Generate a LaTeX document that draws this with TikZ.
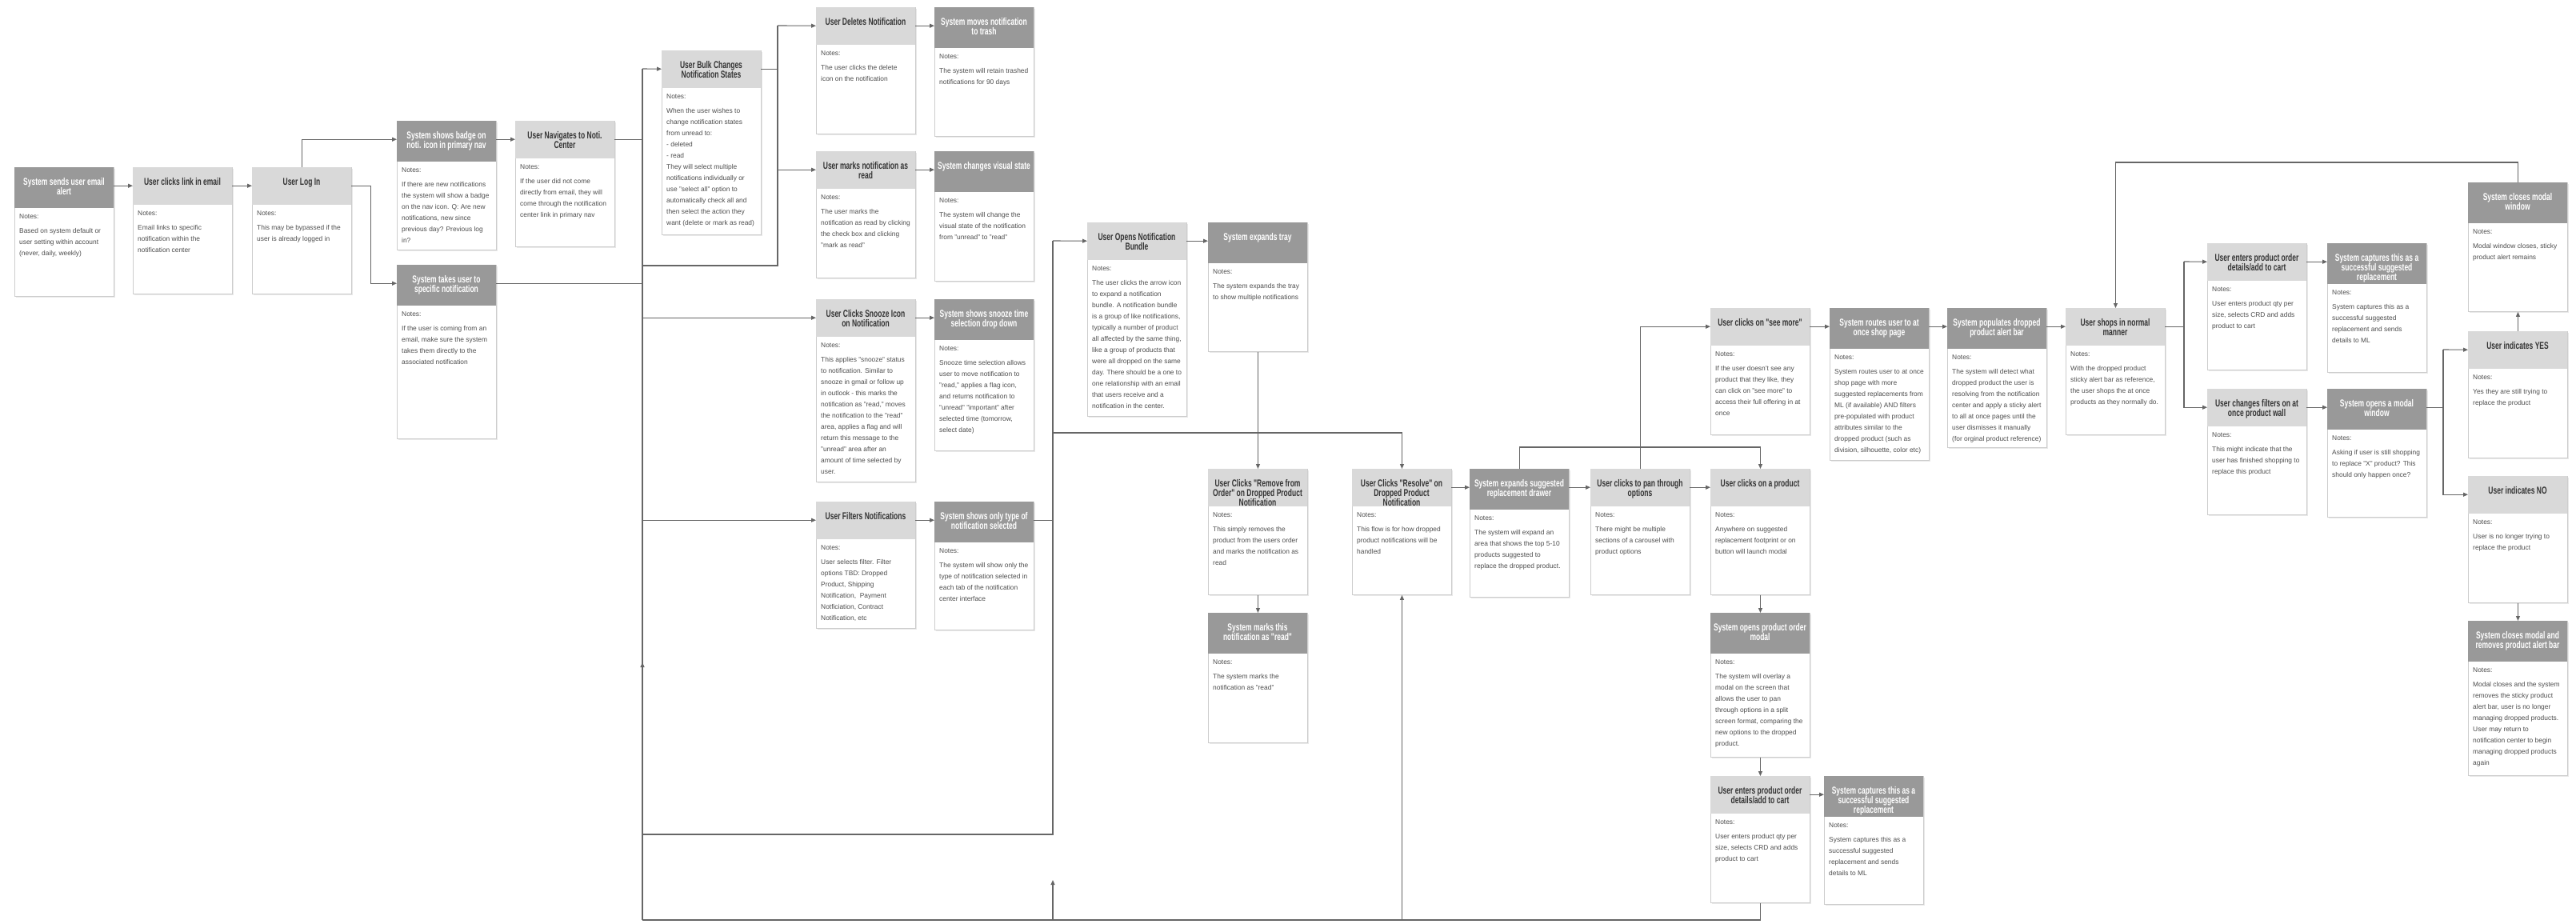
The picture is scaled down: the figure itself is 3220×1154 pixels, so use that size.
\documentclass[tikz,border=0pt]{standalone}
\usepackage{fontspec}
\setmainfont{Liberation Sans}
\newfontfamily\headfont[FakeStretch=0.68]{Liberation Sans}
\usetikzlibrary{arrows.meta}

\definecolor{hdrdark}{HTML}{999999}
\definecolor{hdrlight}{HTML}{D9D9D9}
\definecolor{boxline}{HTML}{CDCDCD}
\definecolor{wirecol}{HTML}{666666}
\definecolor{notegray}{HTML}{4D4D4D}
\definecolor{titledark}{HTML}{333333}

\tikzset{
  wire/.style={draw=wirecol, line width=1.1pt},
  flow/.style={wire, -{Triangle[length=6pt,width=5pt]}},
  boxshade/.style={fill=black!9},
  boxbody/.style={draw=boxline, line width=0.9pt, fill=white, inner sep=0pt,
                  minimum width=124pt, anchor=north west},
  anchorbox/.style={inner sep=0pt, minimum width=124pt, minimum height=46pt,
                    anchor=north west},
  darkfill/.style={fill=hdrdark},
  lightfill/.style={fill=hdrlight},
  darktitle/.style={text=white, font=\headfont\bfseries\fontsize{12.5}{12}\selectfont,
                    align=center, inner sep=0pt, anchor=north},
  lighttitle/.style={text=titledark, font=\headfont\bfseries\fontsize{12.5}{12}\selectfont,
                     align=center, inner sep=0pt, anchor=north},
  notetext/.style={text=notegray, font=\fontsize{8.4}{14}\selectfont,
                   align=left, inner sep=0pt, anchor=north west},
}

% header heights of the two box kinds
\def\hhdark{51}
\def\hhlight{47}

% #1 name, #2 dark/light, #3 left, #4 top, #5 bottom, #6 title, #7 notes
\newcommand\procbox[7]{%
  \pgfmathsetmacro\pbh{#5-#4}%
  \pgfmathsetmacro\pbhead{\csname hh#2\endcsname}%
  \fill[boxshade] (#3+1.5,#4+1.5) rectangle ++(124,\pbh);
  \node[boxbody, minimum height=\pbh pt] (#1) at (#3,#4) {};
  \fill[#2fill] (#3,#4) rectangle ++(124,\pbhead);
  \node[anchorbox] (#1-h) at (#3,#4) {};
  \node[#2title] at (#3+62,#4+13.5) {#6};
  \node[notetext] at (#3+6,#4+\pbhead+8) {Notes:\\[3.5pt]#7};
}

\begin{document}
\begin{tikzpicture}[x=1pt, y=-1pt]
\useasboundingbox[fill=white] (0,0) rectangle (3220,1154);

% ---------- entry path ----------
\procbox{email}{dark}{18}{209}{370}{System sends user email\\alert}
  {Based on system default or\\user setting within account\\(never, daily, weekly)}
\procbox{click}{light}{166}{209}{367}{User clicks link in email}
  {Email links to specific\\notification within the\\notification center}
\procbox{login}{light}{315}{209}{367}{User Log In}
  {This may be bypassed if the\\user is already logged in}
\procbox{badge}{dark}{496}{151}{312}{System shows badge on\\noti. icon in primary nav}
  {If there are new notifications\\the system will show a badge\\on the nav icon. Q: Are new\\notifications, new since\\previous day? Previous log\\in?}
\procbox{navigate}{light}{644}{151}{308}{User Navigates to Noti.\\Center}
  {If the user did not come\\directly from email, they will\\come through the notification\\center link in primary nav}
\procbox{specific}{dark}{496}{331}{548}{System takes user to\\specific notification}
  {If the user is coming from an\\email, make sure the system\\takes them directly to the\\associated notification}

% ---------- notification center actions ----------
\procbox{bulk}{light}{827}{63}{293}{User Bulk Changes\\Notification States}
  {When the user wishes to\\change notification states\\from unread to:\\- deleted\\- read\\They will select multiple\\notifications individually or\\use "select all" option to\\automatically check all and\\then select the action they\\want (delete or mark as read)}
\procbox{delete}{light}{1020}{9}{167}{User Deletes Notification}
  {The user clicks the delete\\icon on the notification}
\procbox{trash}{dark}{1168}{9}{170}{System moves notification\\to trash}
  {The system will retain trashed\\notifications for 90 days}
\procbox{markread}{light}{1020}{189}{347}{User marks notification as\\read}
  {The user marks the\\notification as read by clicking\\the check box and clicking\\"mark as read"}
\procbox{visual}{dark}{1168}{189}{351}{System changes visual state}
  {The system will change the\\visual state of the notification\\from "unread" to "read"}
\procbox{snooze}{light}{1020}{374}{602}{User Clicks Snooze Icon\\on Notification}
  {This applies "snooze" status\\to notification. Similar to\\snooze in gmail or follow up\\in outlook - this marks the\\notification as "read," moves\\the notification to the "read"\\area, applies a flag and will\\return this message to the\\"unread" area after an\\amount of time selected by\\user.}
\procbox{snoozedd}{dark}{1168}{374}{563}{System shows snooze time\\selection drop down}
  {Snooze time selection allows\\user to move notification to\\"read," applies a flag icon,\\and returns notification to\\"unread" "important" after\\selected time (tomorrow,\\select date)}
\procbox{filter}{light}{1020}{627}{785}{User Filters Notifications}
  {User selects filter. Filter\\options TBD: Dropped\\Product, Shipping\\Notification,~ Payment\\Notficiation, Contract\\Notification, etc}
\procbox{onlytype}{dark}{1168}{627}{787}{System shows only type of\\notification selected}
  {The system will show only the\\type of notification selected in\\each tab of the notification\\center interface}

% ---------- bundles and dropped products ----------
\procbox{bundle}{light}{1359}{278}{520}{User Opens Notification\\Bundle}
  {The user clicks the arrow icon\\to expand a notification\\bundle. A notification bundle\\is a group of like notifications,\\typically a number of product\\all affected by the same thing,\\like a group of products that\\were all dropped on the same\\day. There should be a one to\\one relationship with an email\\that users receive and a\\notification in the center.}
\procbox{tray}{dark}{1510}{278}{439}{System expands tray}
  {The system expands the tray\\to show multiple notifications}
\procbox{remove}{light}{1510}{586}{743}{User Clicks "Remove from\\Order" on Dropped Product\\Notification}
  {This simply removes the\\product from the users order\\and marks the notification as\\read}
\procbox{sysread}{dark}{1510}{766}{928}{System marks this\\notification as "read"}
  {The system marks the\\notification as "read"}
\procbox{resolve}{light}{1690}{586}{743}{User Clicks "Resolve" on\\Dropped Product\\Notification}
  {This flow is for how dropped\\product notifications will be\\handled}
\procbox{drawer}{dark}{1837}{586}{746}{System expands suggested\\replacement drawer}
  {The system will expand an\\area that shows the top 5-10\\products suggested to\\replace the dropped product.}
\procbox{pan}{light}{1988}{586}{743}{User clicks to pan through\\options}
  {There might be multiple\\sections of a carousel with\\product options}
\procbox{product}{light}{2138}{586}{743}{User clicks on a product}
  {Anywhere on suggested\\replacement footprint or on\\button will launch modal}
\procbox{seemore}{light}{2138}{385}{543}{User clicks on "see more"}
  {If the user doesn't see any\\product that they like, they\\can click on "see more" to\\access their full offering in at\\once}
\procbox{modal}{dark}{2138}{766}{946}{System opens product order\\modal}
  {The system will overlay a\\modal on the screen that\\allows the user to pan\\through options in a split\\screen format, comparing the\\new options to the dropped\\product.}
\procbox{cartA}{light}{2138}{970}{1128}{User enters product order\\details/add to cart}
  {User enters product qty per\\size, selects CRD and adds\\product to cart}
\procbox{captureA}{dark}{2280}{970}{1130}{System captures this as a\\successful suggested\\replacement}
  {System captures this as a\\successful suggested\\replacement and sends\\details to ML}

% ---------- at once shop ----------
\procbox{routes}{dark}{2287}{385}{575}{System routes user to at\\once shop page}
  {System routes user to at once\\shop page with more\\suggested replacements from\\ML (if available) AND filters\\pre-populated with product\\attributes similar to the\\dropped product (such as\\division, silhouette, color etc)}
\procbox{alertbar}{dark}{2434}{385}{559}{System populates dropped\\product alert bar}
  {The system will detect what\\dropped product the user is\\resolving from the notification\\center and apply a sticky alert\\to all at once pages until the\\user dismisses it manually\\(for orginal product reference)}
\procbox{shop}{light}{2582}{385}{543}{User shops in normal\\manner}
  {With the dropped product\\sticky alert bar as reference,\\the user shops the at once\\products as they normally do.}
\procbox{cartB}{light}{2759}{304}{462}{User enters product order\\details/add to cart}
  {User enters product qty per\\size, selects CRD and adds\\product to cart}
\procbox{captureB}{dark}{2909}{304}{465}{System captures this as a\\successful suggested\\replacement}
  {System captures this as a\\successful suggested\\replacement and sends\\details to ML}
\procbox{filters}{light}{2759}{486}{643}{User changes filters on at\\once product wall}
  {This might indicate that the\\user has finished shopping to\\replace this product}
\procbox{openmodal}{dark}{2909}{486}{646}{System opens a modal\\window}
  {Asking if user is still shopping\\to replace "X" product? This\\should only happen once?}
\procbox{closemodal}{dark}{3085}{228}{389}{System closes modal\\window}
  {Modal window closes, sticky\\product alert remains}
\procbox{yes}{light}{3085}{414}{572}{User indicates YES}
  {Yes they are still trying to\\replace the product}
\procbox{no}{light}{3085}{595}{753}{User indicates NO}
  {User is no longer trying to\\replace the product}
\procbox{removebar}{dark}{3085}{776}{969}{System closes modal and\\removes product alert bar}
  {Modal closes and the system\\removes the sticky product\\alert bar, user is no longer\\managing dropped products.\\User may return to\\notification center to begin\\managing dropped products\\again}

% ---------- rails ----------
\coordinate (busL) at (803,86);
\coordinate (busLbot) at (803,1043);
\coordinate (busS) at (972,32);
\coordinate (busSbot) at (972,332);
\coordinate (busM) at (1316,301);
\coordinate (tapR) at (1316,541);
\coordinate (rail) at (803,1150);
\coordinate (busR) at (2730,327);
\coordinate (busY) at (3054,437);

% ---------- connectors ----------
\draw[flow] (email-h.east) -- (click-h.west);
\draw[flow] (click-h.east) -- (login-h.west);
\draw[flow] (login.north) |- (badge-h.west);
\draw[flow] (login-h.east) -- ++(24,0) |- (specific-h.west);
\draw[flow] (badge-h.east) -- (navigate-h.west);
\draw[wire] (navigate-h.east) -- (navigate-h.east -| busL);
\draw[wire] (specific-h.east) -- (specific-h.east -| busL);

\draw[wire] (busL) -- (busLbot) -| (busM);
\draw[flow] (busL) -- (bulk-h.west);
\draw[flow] (snooze-h.west -| busL) -- (snooze-h.west);
\draw[flow] (filter-h.west -| busL) -- (filter-h.west);

\draw[wire] (bulk-h.east) -- (bulk-h.east -| busS);
\draw[wire] (busS) -- (busSbot) -- (busSbot -| busL);
\draw[flow] (busS) -- (delete-h.west);
\draw[flow] (markread-h.west -| busS) -- (markread-h.west);

\draw[flow] (delete-h.east) -- (trash-h.west);
\draw[flow] (markread-h.east) -- (visual-h.west);
\draw[flow] (snooze-h.east) -- (snoozedd-h.west);
\draw[flow] (filter-h.east) -- (onlytype-h.west);
\draw[wire] (onlytype-h.east) -- (onlytype-h.east -| busM);

\draw[flow] (busM) -- (bundle-h.west);
\draw[flow] (bundle-h.east) -- (tray-h.west);
\draw[flow] (tray.south) -- (remove.north);
\draw[flow] (remove.south) -- (sysread.north);
\draw[flow] (tapR) -| (resolve.north);

\draw[flow] (resolve-h.east) -- (drawer-h.west);
\draw[flow] (drawer-h.east) -- (pan-h.west);
\draw[flow] (pan-h.east) -- (product-h.west);
\draw[flow] (drawer.north) -- ++(0,-27) -| (product.north);
\draw[flow] (pan.north) |- (seemore-h.west);
\draw[flow] (product.south) -- (modal.north);
\draw[flow] (modal.south) -- (cartA.north);
\draw[flow] (cartA-h.east) -- (captureA-h.west);

\draw[wire] (cartA.south) |- (rail);
\draw[flow] (resolve.south |- rail) -- (resolve.south);
\draw[flow] (rail -| busM) -- ++(0,-50);
\draw[flow] (rail) -- (803,828);

\draw[flow] (seemore-h.east) -- (routes-h.west);
\draw[flow] (routes-h.east) -- (alertbar-h.west);
\draw[flow] (alertbar-h.east) -- (shop-h.west);

\draw[wire] (shop-h.east) -- (shop-h.east -| busR);
\draw[flow] (busR) -- (cartB-h.west);
\draw[flow] (busR) |- (filters-h.west);
\draw[flow] (cartB-h.east) -- (captureB-h.west);
\draw[flow] (filters-h.east) -- (openmodal-h.west);

\draw[wire] (openmodal-h.east) -- (openmodal-h.east -| busY);
\draw[flow] (busY) -- (yes-h.west);
\draw[flow] (busY) |- (no-h.west);
\draw[flow] (yes.north) -- (closemodal.south);
\draw[flow] (closemodal.north) -- ++(0,-25) -| (shop.north);
\draw[flow] (no.south) -- (removebar.north);
\end{tikzpicture}
\end{document}
